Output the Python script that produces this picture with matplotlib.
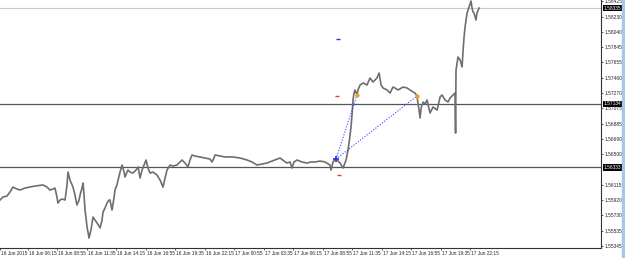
import matplotlib
matplotlib.use("Agg")
import matplotlib.pyplot as plt
import matplotlib.transforms as mtransforms
from matplotlib.patches import Rectangle

# EURUSD-style chart, x = hours since 16 Jun 2015 00:00
hours = [3.72, 3.99, 4.35, 4.62, 4.89, 5.25, 5.53, 5.98, 6.43, 6.88,
         7.61, 7.97, 8.24, 8.51, 8.69, 8.87, 8.96, 9.15, 9.33, 9.60,
         9.78, 9.87, 10.05, 10.32, 10.50, 10.68, 10.87, 10.96, 11.14, 11.23,
         11.32, 11.41, 11.50, 11.59, 11.68, 11.77, 11.95, 12.13, 12.31, 12.49,
         12.68, 12.77, 12.95, 13.04, 13.22, 13.40, 13.58, 13.67, 13.85, 14.03,
         14.12, 14.30, 14.40, 14.58, 14.76, 14.94, 15.03, 15.21, 15.30, 15.48,
         15.75, 16.02, 16.21, 16.39, 16.57, 16.75, 16.93, 17.11, 17.29, 17.56,
         17.92, 18.20, 18.47, 18.65, 18.83, 19.10, 19.37, 19.73, 20.01, 20.19,
         20.46, 20.73, 20.91, 21.09, 21.36, 21.82, 22.27, 22.72, 22.90, 23.08,
         23.17, 23.63, 24.08, 24.80, 25.44, 26.07, 26.52, 26.97, 27.43, 27.88,
         28.33, 29.06, 29.42, 29.69, 29.96, 30.14, 30.32, 30.59, 31.05, 31.50,
         31.86, 32.22, 32.68, 33.13, 33.58, 33.67, 33.85, 34.12, 34.30, 34.49,
         34.76, 35.03, 35.21, 35.30, 35.39, 35.48, 35.57, 35.62, 35.66, 35.75,
         35.84, 36.02, 36.11, 36.30, 36.57, 36.93, 37.20, 37.47, 37.83, 38.02,
         38.20, 38.38, 38.74, 39.01, 39.28, 39.46, 39.73, 40.19, 40.55, 40.82,
         41.09, 41.27, 41.45, 41.54, 41.73, 41.82, 42.00, 42.18, 42.36, 42.63,
         42.90, 43.27, 43.54, 43.72, 43.99, 44.26, 44.44, 44.62, 44.89, 44.94,
         44.98, 45.16, 45.35, 45.53, 45.62, 45.71, 45.80, 45.98, 46.07, 46.34,
         46.43, 46.52, 46.61, 46.79, 46.88, 47.07]
price = [1.55924, 1.55962, 1.55974, 1.56025, 1.56087, 1.56062, 1.56050, 1.56075, 1.56087, 1.56100,
         1.56113, 1.56087, 1.56050, 1.56062, 1.56075, 1.55962, 1.55886, 1.55924, 1.55937, 1.55924,
         1.56113, 1.56276, 1.56175, 1.56087, 1.55987, 1.55861, 1.55924, 1.55987, 1.56075, 1.56138,
         1.55987, 1.55798, 1.55698, 1.55585, 1.55522, 1.55446, 1.55547, 1.55710, 1.55673, 1.55635,
         1.55597, 1.55572, 1.55673, 1.55773, 1.55823, 1.55886, 1.55924, 1.55924, 1.55798, 1.55949,
         1.56050, 1.56113, 1.56175, 1.56276, 1.56364, 1.56276, 1.56213, 1.56276, 1.56301, 1.56276,
         1.56263, 1.56301, 1.56339, 1.56201, 1.56301, 1.56364, 1.56427, 1.56326, 1.56263, 1.56276,
         1.56238, 1.56175, 1.56087, 1.56201, 1.56301, 1.56364, 1.56351, 1.56364, 1.56402, 1.56427,
         1.56389, 1.56339, 1.56427, 1.56490, 1.56477, 1.56465, 1.56452, 1.56439, 1.56402, 1.56452,
         1.56490, 1.56477, 1.56465, 1.56465, 1.56452, 1.56427, 1.56402, 1.56364, 1.56377, 1.56389,
         1.56414, 1.56452, 1.56414, 1.56389, 1.56402, 1.56326, 1.56402, 1.56427, 1.56402, 1.56389,
         1.56402, 1.56402, 1.56414, 1.56402, 1.56364, 1.56301, 1.56402, 1.56452, 1.56414, 1.56389,
         1.56326, 1.56427, 1.56553, 1.56641, 1.56741, 1.56842, 1.56992, 1.57093, 1.57181, 1.57269,
         1.57307, 1.57244, 1.57307, 1.57370, 1.57395, 1.57370, 1.57458, 1.57407, 1.57458, 1.57520,
         1.57370, 1.57332, 1.57307, 1.57269, 1.57344, 1.57332, 1.57307, 1.57344, 1.57332, 1.57307,
         1.57282, 1.57269, 1.57231, 1.57143, 1.56955, 1.57080, 1.57156, 1.57131, 1.57181, 1.57018,
         1.57093, 1.57055, 1.57219, 1.57244, 1.57181, 1.57156, 1.57206, 1.57231, 1.57269, 1.56766,
         1.57558, 1.57722, 1.57684, 1.57596, 1.57810, 1.57973, 1.58099, 1.58275, 1.58312, 1.58425,
         1.58337, 1.58287, 1.58275, 1.58187, 1.58275, 1.58337]

# horizontal levels and the current bid
levels = [1.57134, 1.56333]
bid = 1.58335

# trade markers: entry cross, two exits
entry = (34.12, 1.56439)
exits_h = [36.02, 41.45]
exits_p = [1.57244, 1.57231]
blue_dash = (34.30, 1.57948)
red_dash_h = [34.21, 34.39]
red_dash_p = [1.57231, 1.56238]

ytick_vals = [1.58425, 1.58230, 1.58040, 1.57845, 1.57655, 1.57460, 1.57270, 1.57075,
              1.56885, 1.56690, 1.56500, 1.56115, 1.55920, 1.55730, 1.55535, 1.55345]

xtick_hours = [3.72, 6.25, 8.917, 11.583, 14.25, 16.917, 19.583, 22.25, 24.917,
               27.583, 30.25, 32.917, 35.583, 38.25, 40.917, 43.583, 46.25]
xtick_labels = ["16 Jun 2015", "16 Jun 06:15", "16 Jun 08:55", "16 Jun 11:35", "16 Jun 14:15",
                "16 Jun 16:55", "16 Jun 19:35", "16 Jun 22:15", "17 Jun 00:55", "17 Jun 03:35",
                "17 Jun 06:15", "17 Jun 08:55", "17 Jun 11:35", "17 Jun 14:15", "17 Jun 16:55",
                "17 Jun 19:35", "17 Jun 22:15"]

fs_y = 3.5
fs_x = 3.4
plt.rcParams['font.family'] = ['Liberation Sans', 'DejaVu Sans']

fig = plt.figure(figsize=(6.25, 2.58), dpi=100)
ax = fig.add_axes([0, 10 / 258, 601 / 625, 248 / 258])

for lv in levels:
    ax.axhline(lv, color='#555555', lw=0.9, zorder=1)
ax.axhline(bid, color='#c8c8c8', lw=0.8, zorder=1)

ax.plot(hours, price, color='#6e6e6e', lw=1.2, zorder=2)

for hx, px in zip(exits_h, exits_p):
    ax.plot([entry[0], hx], [entry[1], px], color='#3344ff', lw=0.8, ls=(0, (1, 1.5)), zorder=3)
ax.plot(exits_h, exits_p, 'o', color='#f0a020', ms=2, zorder=4)
ax.plot(*entry, marker='+', color='#2233ee', ms=5, mew=1.2, zorder=4)
ax.plot(*blue_dash, marker='_', color='#2233ee', ms=3, mew=1, zorder=4)
ax.plot(red_dash_h, red_dash_p, '_', color='#e04040', ms=3, mew=1, zorder=4)

ax.set_xlim(3.716, 58.1)
ax.set_ylim(1.55321, 1.58438)

for s in ['left', 'top']:
    ax.spines[s].set_visible(False)
for s in ['right', 'bottom']:
    ax.spines[s].set_color('#333333')
    ax.spines[s].set_linewidth(0.8)

ax.yaxis.tick_right()
ax.set_yticks(ytick_vals)
ax.set_yticklabels(["%.5f" % v for v in ytick_vals])
ax.tick_params(axis='y', length=1.5, width=0.5, pad=1, labelsize=fs_y, colors='#222222')

ax.set_xticks(xtick_hours)
ax.set_xticklabels(xtick_labels)
ax.tick_params(axis='x', length=1.5, width=0.5, pad=0.8, labelsize=fs_x, colors='#222222')
for lbl in ax.get_xticklabels():
    lbl.set_horizontalalignment('left')
    lbl.set_transform(lbl.get_transform() + mtransforms.ScaledTranslation(1 / 100, 0, fig.dpi_scale_trans))

# highlighted price boxes on the price scale
trans = mtransforms.blended_transform_factory(ax.transAxes, ax.transData)
for v in [bid] + levels:
    ax.text(1.004, v, "%.5f" % v, transform=trans, fontsize=fs_y, color='white', va='center', ha='left',
            bbox=dict(boxstyle='square,pad=0.15', fc='#000000', ec='none'), zorder=5)

# thin blue frame strip at the right edge
fig.patches.append(Rectangle((622 / 625, 0), 3 / 625, 1, transform=fig.transFigure,
                             color='#a9c6e6', zorder=0))

fig.savefig("out.png", dpi=100)
